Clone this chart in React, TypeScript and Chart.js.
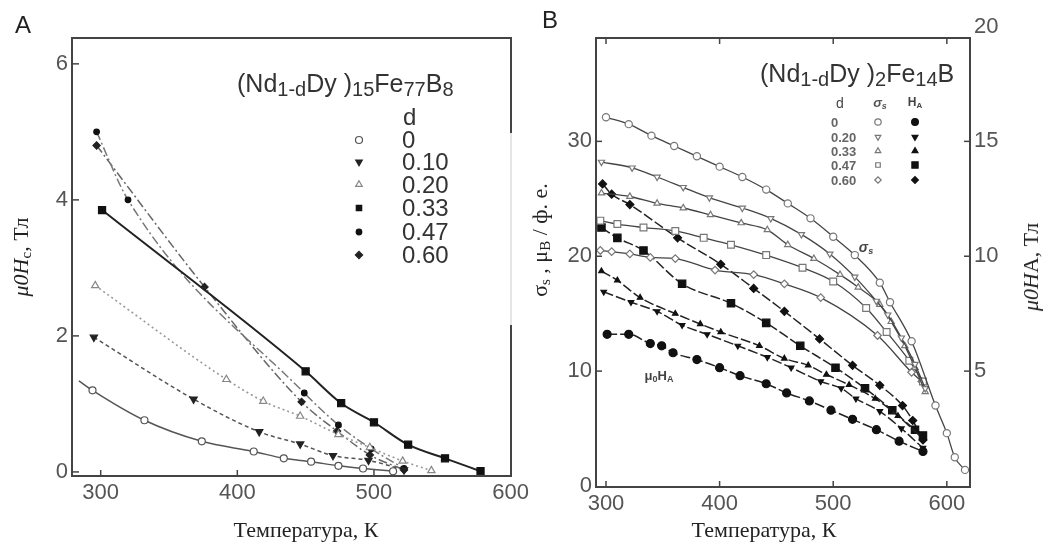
import React, { useEffect, useRef } from 'react';
import { Chart, registerables } from 'chart.js';
Chart.register(...registerables);

const SANS = '"Liberation Sans", Arial, sans-serif';
const SERIF = '"Liberation Serif", "Times New Roman", serif';

// ---------------- Panel A : (Nd1-dDyd)15Fe77B8, mu0Hc (T) vs T (K) ----------------
const A_X_TICKS = [300, 400, 500, 600];
const A_Y_TICKS = [0, 2, 4, 6];
const A_LEGEND = ['0', '0.10', '0.20', '0.33', '0.47', '0.60'];
const A_T_0 = [284, 294, 332, 374, 412, 434, 454, 474, 492, 514];
const A_H_0 = [1.34, 1.2, 0.76, 0.45, 0.3, 0.2, 0.15, 0.09, 0.05, 0.01];
const A_T_10 = [295, 368, 416, 446, 470, 496, 522];
const A_H_10 = [1.98, 1.07, 0.59, 0.41, 0.24, 0.17, 0.03];
const A_T_20 = [296, 392, 419, 446, 474, 497, 521, 542];
const A_H_20 = [2.74, 1.36, 1.04, 0.82, 0.55, 0.36, 0.16, 0.02];
const A_T_33 = [301, 450, 476, 500, 525, 552, 578];
const A_H_33 = [3.85, 1.48, 1.01, 0.73, 0.4, 0.2, 0.01];
const A_T_47 = [297, 320, 449, 474, 498, 522];
const A_H_47 = [5.0, 4.0, 1.16, 0.69, 0.34, 0.05];
const A_T_60 = [297, 376, 447, 473, 497, 522];
const A_H_60 = [4.8, 2.72, 1.03, 0.6, 0.25, 0.03];

// ---------------- Panel B : (Nd1-dDyd)2Fe14B, sigma_s (muB/f.u.) and mu0HA (T) ----------------
const B_X_TICKS = [300, 400, 500, 600];
const B_YL_TICKS = [0, 10, 20, 30];
const B_YR_TICKS = [5, 10, 15, 20];
const B_LEGEND = ['0', '0.20', '0.33', '0.47', '0.60'];
// sigma_s (left axis)
const S_T_0 = [300, 320, 340, 360, 380, 400, 420, 441, 460, 480, 500, 519, 541, 550, 569, 590, 600, 607, 616];
const S_V_0 = [32.1, 31.5, 30.5, 29.6, 28.7, 27.8, 26.9, 25.8, 24.6, 23.3, 21.7, 20.1, 17.7, 16.0, 12.6, 7.0, 4.6, 2.5, 1.4];
const S_T_20 = [296, 323, 345, 368, 391, 420, 445, 472, 497, 519, 538, 548, 560, 572, 581];
const S_V_20 = [28.2, 27.7, 26.9, 26.0, 25.1, 24.2, 23.3, 21.9, 20.2, 18.2, 16.1, 14.9, 12.9, 10.6, 8.5];
const S_T_33 = [296, 321, 345, 368, 392, 419, 442, 460, 483, 506, 522, 541, 551, 563, 572, 581];
const S_V_33 = [25.5, 25.2, 24.6, 24.2, 23.6, 22.9, 22.3, 21.0, 19.8, 18.4, 17.3, 15.8, 14.3, 12.2, 10.3, 8.2];
const S_T_47 = [295, 310, 333, 361, 386, 410, 441, 473, 500, 529, 547, 567, 579];
const S_V_47 = [23.1, 22.8, 22.5, 22.2, 21.6, 21.0, 20.1, 19.0, 17.8, 15.5, 13.4, 10.9, 9.1];
const S_T_60 = [295, 305, 321, 339, 361, 396, 430, 457, 489, 539, 569, 578];
const S_V_60 = [20.5, 20.4, 20.2, 19.9, 19.8, 18.8, 18.4, 17.6, 16.4, 13.1, 9.9, 9.1];
// mu0HA (right axis, T)
const H_T_0 = [301, 320, 339, 349, 359, 380, 400, 418, 441, 459, 479, 498, 517, 538, 558, 579];
const H_V_0 = [6.6, 6.6, 6.2, 6.1, 5.8, 5.5, 5.15, 4.8, 4.45, 4.05, 3.7, 3.3, 2.9, 2.45, 1.95, 1.5];
const H_T_20 = [298, 322, 345, 367, 389, 416, 442, 463, 489, 507, 520, 541, 560, 579];
const H_V_20 = [8.45, 8.0, 7.6, 7.0, 6.6, 6.1, 5.6, 5.15, 4.55, 4.25, 3.8, 3.25, 2.5, 1.65];
const H_T_33 = [296, 310, 330, 361, 383, 401, 435, 457, 478, 494, 514, 537, 557, 579];
const H_V_33 = [9.35, 8.95, 8.2, 7.5, 7.05, 6.7, 6.1, 5.55, 5.25, 4.85, 4.4, 3.8, 3.05, 2.05];
const H_T_47 = [296, 310, 333, 367, 410, 441, 471, 502, 528, 552, 572, 579];
const H_V_47 = [11.25, 10.8, 10.25, 8.8, 7.95, 7.1, 6.1, 5.15, 4.25, 3.3, 2.45, 2.2];
const H_T_60 = [297, 305, 321, 363, 401, 430, 457, 488, 517, 541, 561, 570, 579];
const H_V_60 = [13.15, 12.7, 12.25, 10.8, 9.65, 8.6, 7.6, 6.4, 5.25, 4.38, 3.5, 2.85, 2.0];

// ---------------- styles ----------------
type St = { shape: string; r: number; fill: string; stroke: string; line: string; dash: number[]; lw: number };
const A_STYLES: St[] = [
  { shape: 'circle', r: 3.5, fill: '#fff', stroke: '#555', line: '#555', dash: [], lw: 1.5 },
  { shape: 'triDown', r: 4.2, fill: '#222', stroke: '#222', line: '#555', dash: [4, 3], lw: 1.5 },
  { shape: 'tri', r: 4.2, fill: '#fff', stroke: '#888', line: '#999', dash: [2, 3], lw: 1.6 },
  { shape: 'rect', r: 5, fill: '#111', stroke: '#111', line: '#222', dash: [], lw: 2 },
  { shape: 'circle', r: 2.8, fill: '#111', stroke: '#111', line: '#777', dash: [9, 3, 2, 3], lw: 1.5 },
  { shape: 'rectRot', r: 3.6, fill: '#222', stroke: '#222', line: '#666', dash: [9, 3, 2, 3], lw: 1.5 },
];
const SHAPES = ['circle', 'triDown', 'tri', 'rect', 'rectRot'];
const B_S_STYLES: St[] = SHAPES.map((s, i) => ({
  shape: s, r: [3.6, 3.6, 3.6, 4.8, 3.8][i], fill: '#fff', stroke: '#777', line: '#444', dash: [], lw: 1.3,
}));
const B_H_STYLES: St[] = SHAPES.map((s, i) => ({
  shape: s, r: [4, 3.2, 3.2, 5.2, 4][i], fill: '#111', stroke: '#111', line: '#222', dash: [10, 3], lw: 1.5,
}));

const zip = (xs: number[], ys: number[]) => xs.map((x, i) => ({ x, y: ys[i] }));
const cjsShape = (s: string) => (s === 'tri' || s === 'triDown' ? 'triangle' : s);

function dataset(t: number[], v: number[], st: St, extra: any = {}) {
  return {
    data: zip(t, v),
    borderColor: st.line,
    borderWidth: st.lw,
    borderDash: st.dash,
    pointStyle: cjsShape(st.shape),
    pointRotation: st.shape === 'triDown' ? 180 : 0,
    pointRadius: st.r,
    pointBackgroundColor: st.fill,
    pointBorderColor: st.stroke,
    pointBorderWidth: 1.2,
    cubicInterpolationMode: 'monotone',
    fill: false,
    ...extra,
  };
}

function drawMarker(ctx: CanvasRenderingContext2D, st: St, x: number, y: number, r: number) {
  ctx.save();
  ctx.beginPath();
  if (st.shape === 'circle') ctx.arc(x, y, r, 0, Math.PI * 2);
  else if (st.shape === 'rect') {
    const s = Math.SQRT1_2 * r;
    ctx.rect(x - s, y - s, 2 * s, 2 * s);
  } else if (st.shape === 'rectRot') {
    ctx.moveTo(x - r, y); ctx.lineTo(x, y - r); ctx.lineTo(x + r, y); ctx.lineTo(x, y + r); ctx.closePath();
  } else {
    let rad = st.shape === 'triDown' ? Math.PI : 0;
    for (let k = 0; k < 3; k++) {
      const px = x + Math.sin(rad) * r, py = y - Math.cos(rad) * r;
      if (k === 0) ctx.moveTo(px, py); else ctx.lineTo(px, py);
      rad += (2 * Math.PI) / 3;
    }
    ctx.closePath();
  }
  ctx.fillStyle = st.fill; ctx.fill();
  ctx.lineWidth = 1.2; ctx.strokeStyle = st.stroke; ctx.stroke();
  ctx.restore();
}

const tickFont = { family: SANS, size: 22 };
function xScale(min: number, max: number, ticks: number[], h: number) {
  return {
    type: 'linear', min, max,
    afterBuildTicks: (s: any) => { s.ticks = ticks.map((v) => ({ value: v })); },
    afterFit: (s: any) => { s.height = h; },
    ticks: { font: tickFont, color: '#555', padding: 4, maxRotation: 0, autoSkip: false },
    grid: { display: false, drawTicks: false },
    border: { display: false },
  };
}
function yScale(min: number, max: number, ticks: number[], w: number, position: string) {
  return {
    type: 'linear', min, max, position,
    afterBuildTicks: (s: any) => { s.ticks = ticks.map((v) => ({ value: v })); },
    afterFit: (s: any) => { s.width = w; },
    ticks: { font: tickFont, color: '#555', padding: 4, autoSkip: false },
    grid: { display: false, drawTicks: false },
    border: { display: false },
  };
}

function tick(ctx: CanvasRenderingContext2D, x1: number, y1: number, x2: number, y2: number) {
  ctx.beginPath(); ctx.moveTo(x1, y1); ctx.lineTo(x2, y2); ctx.stroke();
}

const A_ROWS = [140, 162, 184.5, 208, 232, 255];
const B_ROWS = [122, 137, 151, 165, 180];

const frameA = {
  id: 'frameA',
  afterDraw(chart: any) {
    const { ctx, chartArea: a, scales } = chart;
    ctx.save();
    ctx.strokeStyle = '#444'; ctx.lineWidth = 2;
    ctx.strokeRect(a.left, a.top, a.right - a.left, a.bottom - a.top);
    // faint part of the right border (hidden behind the legend paper in the scan)
    ctx.strokeStyle = '#fff'; ctx.lineWidth = 3; tick(ctx, a.right, 133, a.right, 325);
    ctx.strokeStyle = '#dcdcdc'; ctx.lineWidth = 1.5; tick(ctx, a.right, 133, a.right, 325);
    ctx.strokeStyle = '#444'; ctx.lineWidth = 1.5;
    A_X_TICKS.forEach((v) => { const p = scales.x.getPixelForValue(v); if (p < a.right - 2) tick(ctx, p, a.bottom, p, a.bottom - 6); });
    A_Y_TICKS.forEach((v) => { const p = scales.y.getPixelForValue(v); if (p < a.bottom - 2) tick(ctx, a.left, p, a.left + 7, p); });
    // legend markers
    A_STYLES.forEach((st, i) => drawMarker(ctx, st, 359, A_ROWS[i], Math.min(st.r, 3.8)));
    ctx.restore();
  },
};

const frameB = {
  id: 'frameB',
  afterDraw(chart: any) {
    const { ctx, chartArea: a, scales } = chart;
    ctx.save();
    ctx.strokeStyle = '#444'; ctx.lineWidth = 2;
    ctx.strokeRect(a.left, a.top, a.right - a.left, a.bottom - a.top);
    ctx.lineWidth = 1.5;
    B_X_TICKS.forEach((v) => {
      const p = scales.x.getPixelForValue(v);
      tick(ctx, p, a.bottom, p, a.bottom - 6);
      tick(ctx, p, a.top, p, a.top + 6);
    });
    B_YL_TICKS.forEach((v) => { const p = scales.y.getPixelForValue(v); if (p < a.bottom - 2 && p > a.top + 2) tick(ctx, a.left, p, a.left + 6, p); });
    B_YR_TICKS.forEach((v) => { const p = scales.y2.getPixelForValue(v); if (p < a.bottom - 2 && p > a.top + 2) tick(ctx, a.right, p, a.right - 6, p); });
    B_S_STYLES.forEach((st, i) => drawMarker(ctx, st, 338, B_ROWS[i], 3.2));
    B_H_STYLES.forEach((st, i) => drawMarker(ctx, st, 375, B_ROWS[i], st.shape === 'rect' ? 4.4 : 3.4));
    ctx.restore();
  },
};

const baseOptions = {
  animation: false,
  responsive: false,
  devicePixelRatio: 1,
  events: [],
  plugins: { legend: { display: false }, tooltip: { enabled: false } },
};

function configA(): any {
  const T = [A_T_0, A_T_10, A_T_20, A_T_33, A_T_47, A_T_60];
  const H = [A_H_0, A_H_10, A_H_20, A_H_33, A_H_47, A_H_60];
  return {
    type: 'line',
    data: {
      datasets: A_STYLES.map((st, i) =>
        dataset(T[i], H[i], st, {
          label: A_LEGEND[i],
          ...(i === 0 ? { pointRadius: (c: any) => (c.dataIndex === 0 ? 0 : st.r) } : {}),
        })
      ),
    },
    options: {
      ...baseOptions,
      layout: { padding: { top: 38, right: 29, left: 0, bottom: 0 } },
      scales: {
        x: xScale(279, 600.3, A_X_TICKS, 69),
        y: yScale(-0.06, 6.38, A_Y_TICKS, 72, 'left'),
      },
    },
    plugins: [frameA],
  };
}

function configB(): any {
  const ST = [S_T_0, S_T_20, S_T_33, S_T_47, S_T_60];
  const SV = [S_V_0, S_V_20, S_V_33, S_V_47, S_V_60];
  const HT = [H_T_0, H_T_20, H_T_33, H_T_47, H_T_60];
  const HV = [H_V_0, H_V_20, H_V_33, H_V_47, H_V_60];
  return {
    type: 'line',
    data: {
      datasets: [
        ...B_S_STYLES.map((st, i) => dataset(ST[i], SV[i], st, { label: 'σs ' + B_LEGEND[i], yAxisID: 'y' })),
        ...B_H_STYLES.map((st, i) => dataset(HT[i], HV[i], st, { label: 'HA ' + B_LEGEND[i], yAxisID: 'y2' })),
      ],
    },
    options: {
      ...baseOptions,
      layout: { padding: { top: 38, right: 0, left: 0, bottom: 0 } },
      scales: {
        x: xScale(291.2, 620.4, B_X_TICKS, 58),
        y: yScale(-0.09, 39.0, B_YL_TICKS, 56, 'left'),
        y2: yScale(-0.045, 19.5, B_YR_TICKS, 74, 'right'),
      },
    },
    plugins: [frameB],
  };
}

const abs = (x: number, y: number, extra: any = {}): React.CSSProperties => ({
  position: 'absolute', left: x, top: y, whiteSpace: 'nowrap', lineHeight: 1, ...extra,
});
const center = 'translate(-50%,-50%)';
const sub = (size: string, shift: string): React.CSSProperties => ({ fontSize: size, verticalAlign: shift });

export default function App() {
  const refA = useRef<HTMLCanvasElement>(null);
  const refB = useRef<HTMLCanvasElement>(null);
  useEffect(() => {
    const ca = new Chart(refA.current as HTMLCanvasElement, configA());
    const cb = new Chart(refB.current as HTMLCanvasElement, configB());
    return () => { ca.destroy(); cb.destroy(); };
  }, []);

  const fs = sub('20px', '-4px');

  return (
    <div style={{ position: 'absolute', left: 0, top: 0, width: 1044, height: 545, background: '#fff', overflow: 'hidden', fontFamily: SANS, color: '#333' }}>
      <canvas ref={refA} width={540} height={545} style={{ position: 'absolute', left: 0, top: 0, width: 540, height: 545 }} />
      <canvas ref={refB} width={504} height={545} style={{ position: 'absolute', left: 540, top: 0, width: 504, height: 545 }} />

      {/* panel letters */}
      <div style={abs(23, 25, { transform: center, fontSize: 24, color: '#222' })}>A</div>
      <div style={abs(550, 20, { transform: center, fontSize: 24, color: '#222' })}>B</div>

      {/* panel A texts */}
      <div style={abs(237, 71, { fontSize: 25, color: '#333' })}>
        (Nd<span style={fs}>1-d</span>Dy )<span style={fs}>15</span>Fe<span style={fs}>77</span>B<span style={fs}>8</span>
      </div>
      <div style={abs(403, 117, { transform: 'translateY(-50%)', fontSize: 24, color: '#333' })}>d</div>
      {A_LEGEND.map((l, i) => (
        <div key={'al' + i} style={abs(402, A_ROWS[i], { transform: 'translateY(-50%)', fontSize: 24, color: '#333' })}>{l}</div>
      ))}
      <div style={abs(306, 530, { transform: center, fontFamily: SERIF, fontSize: 22, color: '#222' })}>Температура, К</div>
      <div style={abs(22, 257, { transform: center + ' rotate(-90deg)', fontFamily: SERIF, fontSize: 22, color: '#222' })}>
        <i>μ</i><i>0H</i><span style={sub('15px', '-3px')}>c</span>, Тл
      </div>

      {/* panel B texts */}
      <div style={abs(760, 61, { fontSize: 25, color: '#333' })}>
        (Nd<span style={fs}>1-d</span>Dy )<span style={fs}>2</span>Fe<span style={fs}>14</span>B
      </div>
      <div style={abs(840, 103, { transform: center, fontSize: 14, color: '#444' })}>d</div>
      <div style={abs(880, 103, { transform: center, fontSize: 13, fontWeight: 'bold', fontStyle: 'italic', color: '#555' })}>σ<span style={sub('9px', '-2px')}>s</span></div>
      <div style={abs(915, 103, { transform: center, fontSize: 12, fontWeight: 'bold', color: '#444' })}>H<span style={sub('8px', '-2px')}>A</span></div>
      {B_LEGEND.map((l, i) => (
        <div key={'bl' + i} style={abs(831, B_ROWS[i], { transform: 'translateY(-50%)', fontSize: 13, fontWeight: 'bold', color: '#666' })}>{l}</div>
      ))}
      <div style={abs(866, 248, { transform: center, fontSize: 14, fontWeight: 'bold', fontStyle: 'italic', color: '#444' })}>σ<span style={sub('9px', '-2px')}>s</span></div>
      <div style={abs(659, 376, { transform: center, fontSize: 13, fontWeight: 'bold', color: '#444' })}>μ<span style={sub('9px', '-2px')}>0</span>H<span style={sub('9px', '-2px')}>A</span></div>
      <div style={abs(764, 530, { transform: center, fontFamily: SERIF, fontSize: 22, color: '#222' })}>Температура, К</div>
      <div style={abs(541, 240, { transform: center + ' rotate(-90deg)', fontFamily: SERIF, fontSize: 22, color: '#222' })}>
        σ<span style={sub('15px', '-3px')}>s</span> , μ<span style={sub('15px', '-3px')}>B</span> / ф. е.
      </div>
      <div style={abs(1031, 267, { transform: center + ' rotate(-90deg)', fontFamily: SERIF, fontSize: 22, color: '#222' })}>
        <i>μ0H</i><span>A</span>, Тл
      </div>
    </div>
  );
}
